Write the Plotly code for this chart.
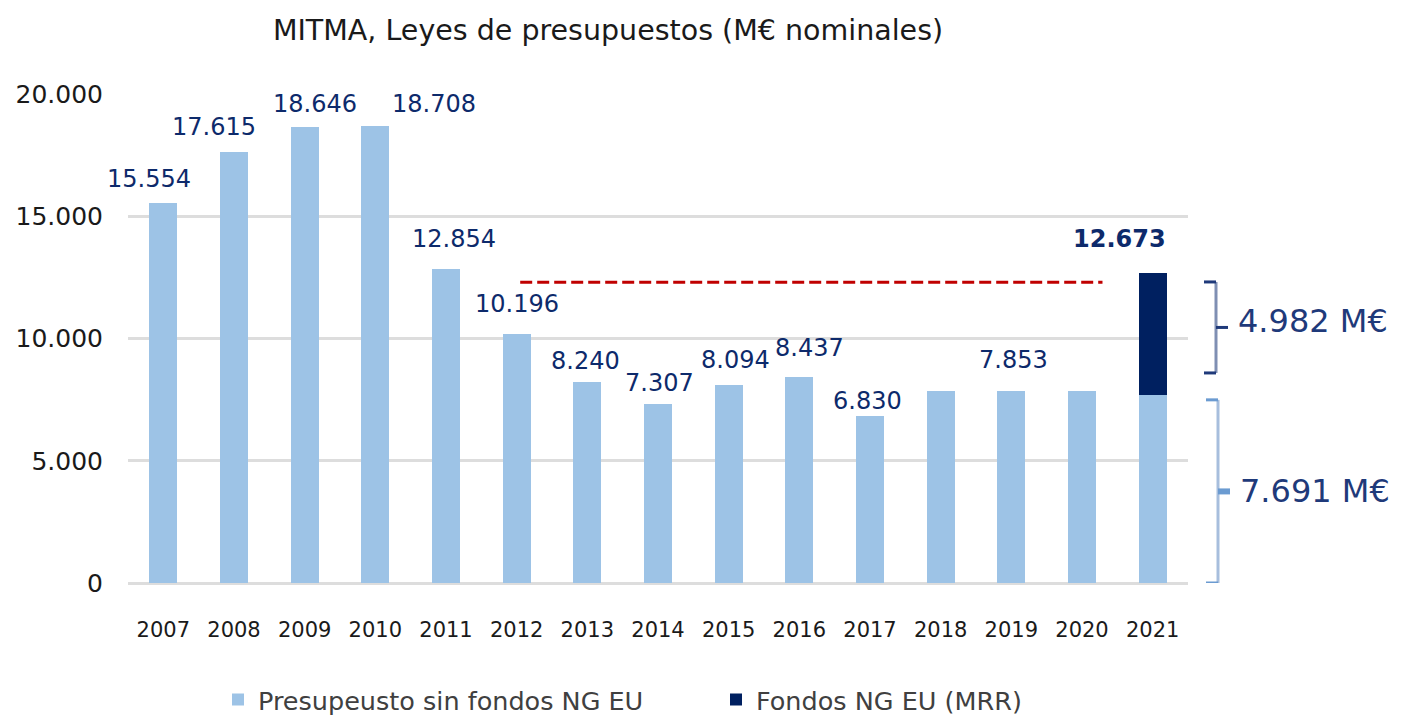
import plotly.graph_objects as go

years = ["2007", "2008", "2009", "2010", "2011", "2012", "2013", "2014",
         "2015", "2016", "2017", "2018", "2019", "2020", "2021"]
base_budget = [15554, 17615, 18646, 18708, 12854, 10196, 8240, 7307,
               8094, 8437, 6830, 7853, 7853, 7853, 7691]
ngeu_funds = [0, 0, 0, 0, 0, 0, 0, 0, 0, 0, 0, 0, 0, 0, 4982]
show_label = [True] * 11 + [False, True, False, True]
ref_level = 12300

# label nudges (pixels), purely presentational
label_dx = [-14, -20, 10, 59, 8, 0, -2, 1, 7, 10, -3, 0, 2, 0, -33]
label_dy = [24, 25, 23, 22, 30, 30, 21, 21, 25, 29, 15, 0, 31, 0, 34]

LIGHT = "#9DC3E6"
DARK = "#002060"
LABEL = "#0D2A6B"
FONT = "DejaVu Sans"

totals = [b + n for b, n in zip(base_budget, ngeu_funds)]

def fmt(v):
    return f"{v:,}".replace(",", ".")

fig = go.Figure()
fig.add_trace(go.Bar(x=years, y=base_budget, name="Presupeusto sin fondos NG EU",
                     marker=dict(color=LIGHT, line=dict(width=0)), legend="legend"))
fig.add_trace(go.Bar(x=years, y=ngeu_funds, name="Fondos NG EU (MRR)",
                     marker=dict(color=DARK, line=dict(width=0)), legend="legend2"))

for i, tot in enumerate(totals):
    if not show_label[i]:
        continue
    txt = f"<b>{fmt(tot)}</b>" if i == len(years) - 1 else fmt(tot)
    # category axis: use the serial index of the category
    fig.add_annotation(x=i, y=tot, xref="x", yref="y", text=txt, showarrow=False,
                       xanchor="center", yanchor="middle",
                       xshift=label_dx[i], yshift=label_dy[i],
                       font=dict(family=FONT, size=24, color=LABEL))

# page has an 8px body margin: page coords = figure coords + 8
OFF = 8
W, H = 1402, 715
PL, PR, PT, PB = 128, 1188, 94, 583   # plot area in page pixels
def px(x):
    return (x - PL) / (PR - PL)

# red dashed reference line
fig.add_shape(type="line", xref="x", yref="y", x0=5.05, x1=13.29, y0=ref_level, y1=ref_level,
              line=dict(color="#C00000", width=3, dash="12px,5px"))

# braces
b = base_budget[-1]
t = totals[-1]
def brace(y0, y1, xv, color, tickcolor, tickw):
    ym = (y0 + y1) / 2
    fig.add_shape(type="line", xref="paper", yref="y", x0=px(xv), x1=px(xv), y0=y0, y1=y1,
                  line=dict(color=color, width=3))
    fig.add_shape(type="line", xref="paper", yref="y", x0=px(xv - 12), x1=px(xv), y0=y0, y1=y0,
                  line=dict(color=tickcolor, width=3))
    fig.add_shape(type="line", xref="paper", yref="y", x0=px(xv - 12), x1=px(xv), y0=y1, y1=y1,
                  line=dict(color=tickcolor, width=3))
    fig.add_shape(type="line", xref="paper", yref="y", x0=px(xv), x1=px(xv + 12), y0=ym, y1=ym,
                  line=dict(color=tickcolor, width=tickw))
    return ym

ym1 = brace(b + 900, t - 360, 1216, "#7F8FB3", "#1F3A7A", 3)
ym2 = brace(0, b - 200, 1218, "#A7BEDD", "#6B9BD1", 6)
fig.add_annotation(xref="paper", yref="y", x=px(1236), y=ym1, xanchor="left", yanchor="middle",
                   yshift=6, text=f"{fmt(ngeu_funds[-1])} M€", showarrow=False,
                   font=dict(family=FONT, size=32, color="#1F3A7A"))
fig.add_annotation(xref="paper", yref="y", x=px(1238), y=ym2, xanchor="left", yanchor="middle",
                   text=f"{fmt(b)} M€", showarrow=False,
                   font=dict(family=FONT, size=32, color="#1F3A7A"))

fig.update_layout(
    width=W, height=H,
    barmode="stack", bargap=0.6,
    separators=",.",
    paper_bgcolor="white", plot_bgcolor="white",
    margin=dict(l=PL - OFF, r=W - (PR - OFF), t=PT - OFF, b=H - (PB - OFF), autoexpand=False),
    title=dict(text="MITMA, Leyes de presupuestos (M€ nominales)", x=(608 - OFF) / W, xanchor="center",
               y=1 - (30 - OFF) / H, yanchor="middle",
               font=dict(family=FONT, size=28.5, color="#1a1a1a")),
    font=dict(family=FONT, color="#262626"),
    legend=dict(orientation="h", yref="container", x=px(218), y=1 - (700 - OFF) / H,
                xanchor="left", yanchor="middle",
                font=dict(family=FONT, size=25.5, color="#404040")),
    legend2=dict(orientation="h", yref="container", x=px(716), y=1 - (700 - OFF) / H,
                 xanchor="left", yanchor="middle",
                 font=dict(family=FONT, size=25.5, color="#404040")),
    showlegend=True,
)
fig.update_xaxes(type="category", range=[-0.5, len(years) - 0.5],
                 tickfont=dict(family=FONT, size=21, color="#1a1a1a"),
                 ticklabelstandoff=32, showgrid=False, showline=False, zeroline=False,
                 automargin=False)
fig.update_yaxes(range=[0, 20000], tickvals=[0, 5000, 10000, 15000, 20000],
                 separatethousands=True, tickformat=",d",
                 tickfont=dict(family=FONT, size=25, color="#1a1a1a"),
                 ticklabelstandoff=24, automargin=False,
                 showgrid=True, gridcolor="#DDDDDD", gridwidth=3,
                 zeroline=True, zerolinecolor="#DDDDDD", zerolinewidth=3, showline=False)

fig.write_html("out.html")
